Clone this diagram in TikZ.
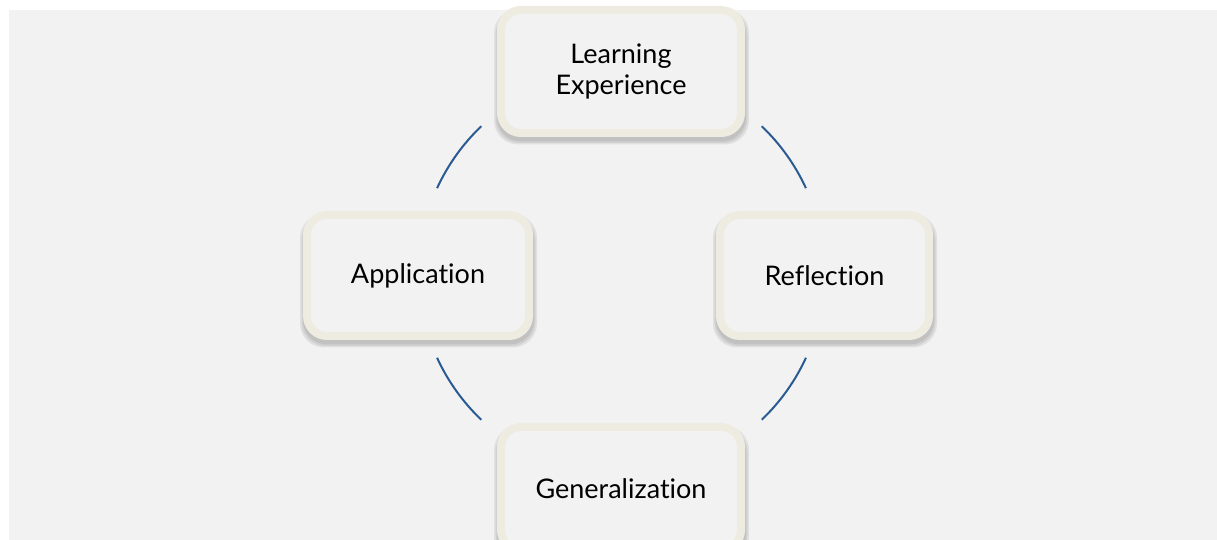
\documentclass[tikz,border=0pt]{standalone}
\usepackage{fontspec}
\setmainfont{Lato}[Ligatures=NoCommon]
\usetikzlibrary{calc}
\pgfdeclarelayer{bglayer}
\pgfdeclarelayer{shadowlayer}
\pgfsetlayers{bglayer,shadowlayer,main}
\definecolor{bggray}{HTML}{F2F2F2}
\definecolor{cream}{HTML}{EEECE1}
\definecolor{arcblue}{HTML}{2A5A92}
\tikzset{
  stagebox/.style={draw=cream, line width=8pt, fill=bggray, rounded corners=20pt,
    align=center, font=\fontsize{27}{31}\selectfont, text=black, inner sep=0pt},
  shadowpart/.style={fill=black, opacity=0.07},
  cyclearc/.style={draw=arcblue, line width=2pt}
}
\newcommand{\stageshadow}[1]{%
  \begin{pgfonlayer}{shadowlayer}
    \foreach \g in {0,1.5,3}{
      \fill[shadowpart, rounded corners=24pt] ($(#1.south west)+(-\g,-4.5-\g)$) rectangle ($(#1.north east)+(1+\g,-6+\g)$);
    }
  \end{pgfonlayer}}
\begin{document}
\begin{tikzpicture}[x=1pt,y=1pt]
\useasboundingbox (0,0) rectangle (1217,540);
\clip (0,0) rectangle (1217,540);
\begin{pgfonlayer}{bglayer}
\fill[white] (0,0) rectangle (1217,540);
\fill[bggray] (9,0) rectangle (1217,530);
\end{pgfonlayer}
\coordinate (c) at (621.5,267);
\node[stagebox, minimum width=240pt, minimum height=123pt] (le) at (621,468.5) {Learning\\Experience};
\node[stagebox, minimum width=222pt, minimum height=121pt] (app) at (418,264.5) {Application};
\node[stagebox, minimum width=209pt, minimum height=121pt] (refl) at (824.5,264.5) {Reflection};
\node[stagebox, minimum width=240pt, minimum height=123pt] (gen) at (621,51.5) {Generalization};
\stageshadow{le}
\stageshadow{app}
\stageshadow{refl}
\stageshadow{gen}
\draw[cyclearc] ($(c)+(155.3:203)$) arc[start angle=155.3, end angle=133.7, radius=203];
\draw[cyclearc] ($(c)+(46.3:203)$) arc[start angle=46.3, end angle=24.7, radius=203];
\draw[cyclearc] ($(c)+(204.7:203)$) arc[start angle=204.7, end angle=226.3, radius=203];
\draw[cyclearc] ($(c)+(313.7:203)$) arc[start angle=313.7, end angle=335.3, radius=203];
\end{tikzpicture}
\end{document}
